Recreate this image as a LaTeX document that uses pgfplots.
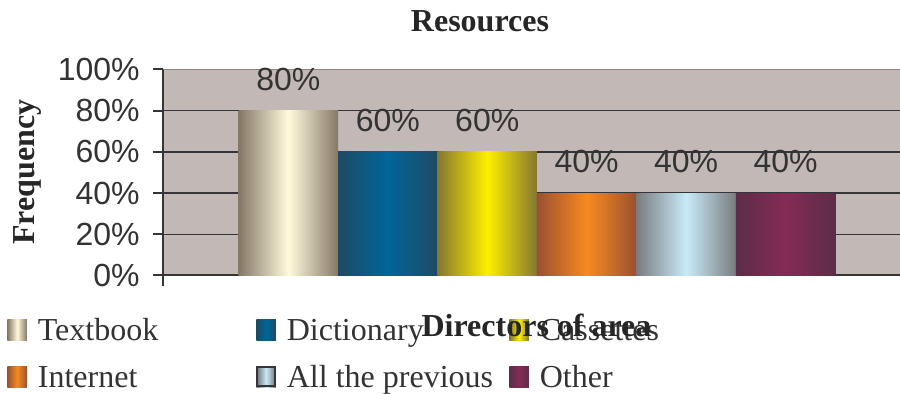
\documentclass[border=0pt]{standalone}
\usepackage{fontspec}
\setmainfont{Liberation Serif}
\newfontfamily\arial{Liberation Sans}
\usepackage{pgfplots}
\pgfplotsset{compat=1.18}

% plot area and text colours
\definecolor{plotbg}{HTML}{C2B9B6}
\definecolor{gridc}{HTML}{353438}
\definecolor{topc}{HTML}{8E8480}
\definecolor{txt}{HTML}{333333}
% bar shadings: edge colour / centre colour
\definecolor{tbE}{HTML}{857866}\definecolor{tbM}{HTML}{FFFADC}
\definecolor{diE}{HTML}{1F4A63}\definecolor{diM}{HTML}{00669A}
\definecolor{caE}{HTML}{857632}\definecolor{caM}{HTML}{FFF000}
\definecolor{inE}{HTML}{9A5131}\definecolor{inM}{HTML}{F78A1F}
\definecolor{apE}{HTML}{7A7C7E}\definecolor{apM}{HTML}{C8EBFA}
\definecolor{otE}{HTML}{5C2D47}\definecolor{otM}{HTML}{842B55}

\newcommand{\lbl}{\arial\fontsize{16}{19.2}\selectfont}
\newcommand{\ser}{\fontsize{16}{19.2}\selectfont}

\pgfplotsset{
  swatch/.style={legend image code/.code={\path[##1] (0pt,0pt) rectangle (9.75pt,10.5pt);}},
  framedswatch/.style={legend image code/.code={\path[##1] (0pt,0pt) rectangle (9.75pt,10.5pt);
    \draw[gridc, line width=1pt] (0.5pt,0.5pt) rectangle (9.25pt,10pt);}},
}

\begin{document}
\begin{tikzpicture}
\path[use as bounding box] (-81.75pt,-59.25pt) rectangle (368.25pt,137.75pt);
\begin{axis}[
  scale only axis,
  width=368.25pt, height=103pt,
  at={(0,0)}, anchor=south west,
  ybar, bar width=1, bar shift=0pt,
  xmin=-1.256, xmax=6.151,
  ymin=0, ymax=100,
  axis x line*=bottom, axis y line*=left,
  axis line style={draw=gridc, line width=1pt},
  axis background/.style={fill=plotbg},
  xtick=\empty,
  extra x ticks={-1.256}, extra x tick labels={},
  extra x tick style={grid=none},
  ytick={0,20,...,100},
  yticklabels={0\%,20\%,40\%,60\%,80\%,100\%},
  yticklabel style={font=\lbl, text=txt, anchor=east, inner sep=0pt, xshift=-6.5pt},
  tick align=outside,
  major tick length=5.25pt,
  tick style={draw=gridc, line width=1pt},
  ymajorgrids,
  major grid style={draw=gridc, line width=0.65pt},
  nodes near coords={\pgfmathprintnumber[assume math mode=true]{\pgfplotspointmeta}\%},
  nodes near coords style={font=\lbl, text=txt, anchor=south, inner sep=0pt, yshift=9.7pt},
  swatch,
  legend columns=3,
  legend style={
    at={(-0.2125,-0.1626)}, anchor=north west,
    draw=none, fill=none, inner sep=0pt,
    font=\ser, text=txt,
    nodes={inner sep=0pt, text height=15.5pt, text depth=8pt, anchor=base west},
    row sep=0pt,
    /tikz/every odd column/.append style={column sep=5.5pt},
    /tikz/every even column/.append style={column sep=0pt},
  },
]
\addplot[draw=none, left color=tbE, right color=tbE, middle color=tbM] coordinates {(0,80)};
\addlegendentry{\makebox[109.25pt][l]{Textbook}}
\addplot[draw=none, left color=diE, right color=diE, middle color=diM] coordinates {(1,60)};
\addlegendentry{\makebox[111.25pt][l]{Dictionary}}
\addplot[draw=none, left color=caE, right color=caE, middle color=caM] coordinates {(2,60)};
\addlegendentry{Cassettes}
\addplot[draw=none, left color=inE, right color=inE, middle color=inM] coordinates {(3,40)};
\addlegendentry{\makebox[109.25pt][l]{Internet}}
\addplot[draw=none, left color=apE, right color=apE, middle color=apM, framedswatch] coordinates {(4,40)};
\addlegendentry{\makebox[111.25pt][l]{All the previous}}
\addplot[draw=none, left color=otE, right color=otE, middle color=otM] coordinates {(5,40)};
\addlegendentry{Other}
% upper edge of the plot area
\draw[topc, line width=0.8pt] (rel axis cs:0,1) -- (rel axis cs:1,1);
\end{axis}
\node[anchor=base, font=\bfseries\ser, text=black!85] at (158.25pt,121.75pt) {Resources};
\node[anchor=base, rotate=90, font=\bfseries\ser, text=black!85] at (-64.25pt,51.75pt) {Frequency};
\node[anchor=base, font=\bfseries\ser, text=black!85] at (186.5pt,-30.75pt) {Directors of area};
\end{tikzpicture}
\end{document}
